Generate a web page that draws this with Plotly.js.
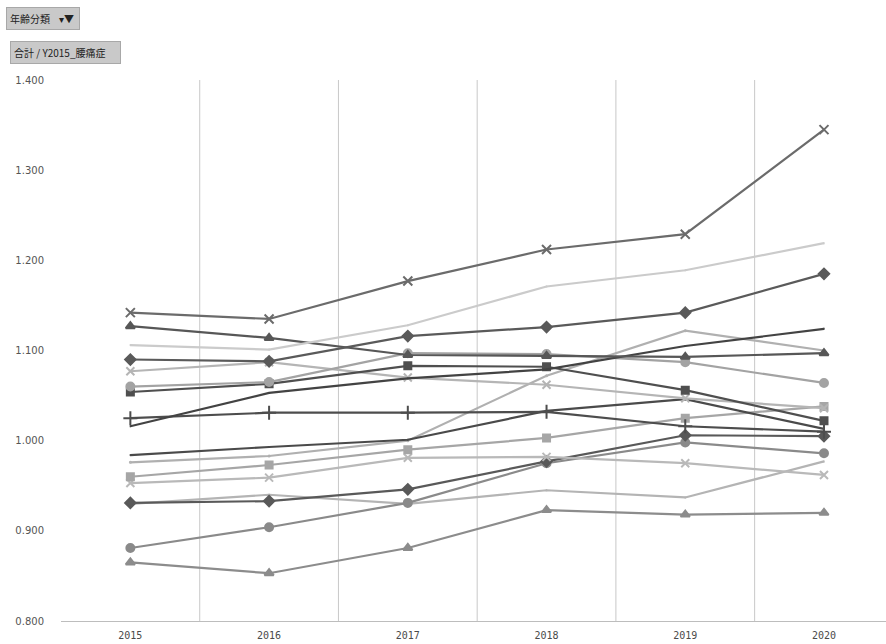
<!DOCTYPE html>
<html>
<head>
<meta charset="utf-8">
<script src="https://cdn.plot.ly/plotly-3.0.1.min.js"></script>
<style>html,body{margin:0;padding:0;background:#fff;}#chart{width:886px;height:644px;}</style>
</head>
<body>
<div id="chart"></div>
<script>
// Categories
const years = ['2015', '2016', '2017', '2018', '2019', '2020'];

// Series values
const s01 = [1.142, 1.135, 1.177, 1.212, 1.229, 1.345];
const s02 = [1.106, 1.101, 1.128, 1.171, 1.189, 1.219];
const s03 = [1.090, 1.088, 1.116, 1.126, 1.142, 1.185];
const s04 = [1.127, 1.114, 1.095, 1.094, 1.093, 1.097];
const s05 = [1.016, 1.053, 1.069, 1.079, 1.105, 1.124];
const s06 = [1.060, 1.065, 1.097, 1.096, 1.087, 1.064];
const s07 = [1.054, 1.063, 1.083, 1.082, 1.056, 1.022];
const s08 = [1.077, 1.087, 1.070, 1.062, 1.047, 1.036];
const s09 = [1.025, 1.031, 1.031, 1.032, 1.016, 1.010];
const s10 = [0.984, 0.993, 1.001, 1.033, 1.046, 1.013];
const s11 = [0.976, 0.983, 1.000, 1.072, 1.122, 1.100];
const s12 = [0.960, 0.973, 0.990, 1.003, 1.025, 1.038];
const s13 = [0.953, 0.959, 0.981, 0.982, 0.975, 0.962];
const s14 = [0.931, 0.933, 0.946, 0.977, 1.006, 1.005];
const s15 = [0.930, 0.940, 0.930, 0.945, 0.937, 0.977];
const s16 = [0.881, 0.904, 0.931, 0.975, 0.998, 0.986];
const s17 = [0.865, 0.853, 0.881, 0.923, 0.918, 0.920];

const yTicks = [0.8, 0.9, 1.0, 1.1, 1.2, 1.3, 1.4];
const yTickText = ['0.800', '0.900', '1.000', '1.100', '1.200', '1.300', '1.400'];

const seriesList = [
  {y: s15, color: '#b4b4b4', symbol: 'line-ew', size: 1},
  {y: s17, color: '#8c8c8c', symbol: 'triangle-up', size: 8},
  {y: s16, color: '#8a8a8a', symbol: 'circle', size: 8},
  {y: s14, color: '#595959', symbol: 'diamond', size: 8},
  {y: s13, color: '#b9b9b9', symbol: 'x-thin', size: 8},
  {y: s12, color: '#a6a6a6', symbol: 'square', size: 7},
  {y: s11, color: '#b0b0b0', symbol: 'circle', size: 1},
  {y: s10, color: '#4a4a4a', symbol: 'line-ew', size: 1},
  {y: s09, color: '#4d4d4d', symbol: 'cross-thin', size: 10},
  {y: s08, color: '#b5b5b5', symbol: 'x-thin', size: 8},
  {y: s07, color: '#4f4f4f', symbol: 'square', size: 7},
  {y: s06, color: '#a3a3a3', symbol: 'circle', size: 8},
  {y: s05, color: '#434343', symbol: 'line-ew', size: 1},
  {y: s04, color: '#575757', symbol: 'triangle-up', size: 8},
  {y: s03, color: '#5a5a5a', symbol: 'diamond', size: 8},
  {y: s02, color: '#cbcbcb', symbol: 'line-ew', size: 1},
  {y: s01, color: '#6b6b6b', symbol: 'x-thin', size: 9}
];

const traces = seriesList.map(s => ({
  type: 'scatter',
  mode: 'lines+markers',
  x: years,
  y: s.y,
  line: {color: s.color, width: 2.2},
  marker: {symbol: s.symbol, size: s.size, color: s.color, line: {color: s.color, width: 2}},
  hoverinfo: 'x+y',
  showlegend: false
}));

const gridShapes = [0.5, 1.5, 2.5, 3.5, 4.5].map(v => ({
  type: 'line', xref: 'x', yref: 'paper', x0: v, x1: v, y0: 0, y1: 1,
  line: {color: '#c8c8c8', width: 1}, layer: 'below'
}));

const layout = {
  width: 886,
  height: 644,
  margin: {l: 61, r: 0, t: 80, b: 23},
  paper_bgcolor: '#ffffff',
  plot_bgcolor: '#ffffff',
  showlegend: false,
  font: {family: 'DejaVu Sans, Arial, sans-serif', color: '#505050', size: 10},
  xaxis: {
    type: 'category',
    range: [-0.5, 5.447],
    showgrid: false,
    showline: true,
    linecolor: '#bdbdbd',
    linewidth: 1,
    ticks: '',
    zeroline: false,
    ticklabelstandoff: 5,
    tickfont: {size: 10, color: '#4a4a4a', family: 'DejaVu Sans Mono, monospace'}
  },
  yaxis: {
    range: [0.8, 1.4],
    tickvals: yTicks,
    ticktext: yTickText,
    showgrid: false,
    zeroline: false,
    showline: false,
    ticks: '',
    ticklabelstandoff: 16,
    tickfont: {size: 10, color: '#555555'}
  },
  shapes: gridShapes,
  annotations: [
    {xref: 'paper', yref: 'paper', x: -0.067, y: 1 + (80-19)/541, xanchor: 'left', yanchor: 'middle',
     text: '年齢分類&nbsp;&nbsp;&nbsp;&nbsp;▾<b>▼</b>&nbsp;', showarrow: false, bgcolor: '#c9c9c9', bordercolor: '#a8a8a8', borderwidth: 1,
     borderpad: 3, font: {family: 'Noto Sans CJK JP, sans-serif', size: 10, color: '#222'}, align: 'left'},
    {xref: 'paper', yref: 'paper', x: -0.062, y: 1 + (80-52)/541, xanchor: 'left', yanchor: 'middle',
     text: '合計 / Y2015_腰痛症&nbsp;&nbsp;&nbsp;&nbsp;&nbsp;', showarrow: false, bgcolor: '#c9c9c9', bordercolor: '#a8a8a8', borderwidth: 1,
     borderpad: 3, font: {family: 'Noto Sans CJK JP, sans-serif', size: 10, color: '#222'}, align: 'left'}
  ]
};

Plotly.newPlot('chart', traces, layout, {displayModeBar: false, staticPlot: true});
</script>
</body>
</html>
